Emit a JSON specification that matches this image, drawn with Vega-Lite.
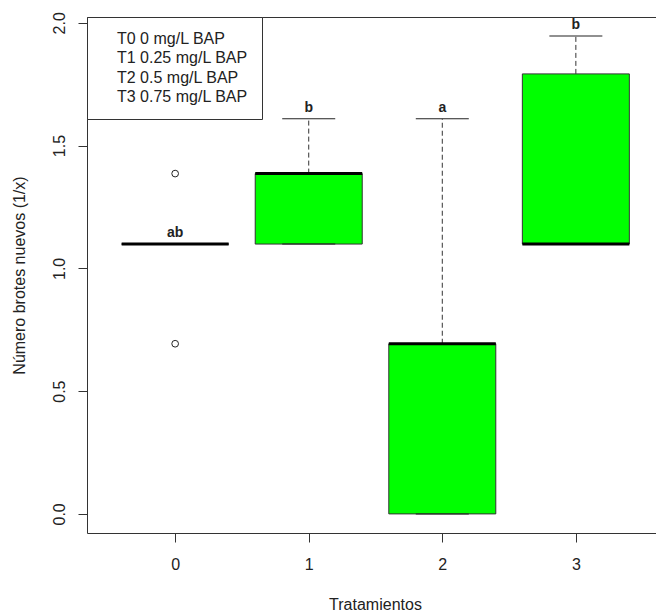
{
  "$schema": "https://vega.github.io/schema/vega-lite/v6.json",
  "autosize": "none",
  "width": 569,
  "height": 516,
  "padding": {"left": 87, "top": 17, "right": 0, "bottom": 78},
  "background": "white",
  "config": {
    "view": {"stroke": null},
    "font": "Liberation Sans",
    "axis": {"grid": false, "domainColor": "#333", "tickColor": "#333", "labelColor": "#222", "titleColor": "#222", "labelFontSize": 16, "titleFontSize": 16, "titleFontWeight": "normal", "tickSize": 9, "labelFont": "Liberation Sans", "titleFont": "Liberation Sans"},
    "legend": {"orient": "top-left", "offset": 0, "strokeColor": "#333", "fillColor": "white", "padding": 14, "symbolSize": 0, "symbolStrokeWidth": 0, "symbolOpacity": 0, "labelOffset": 0, "labelFontSize": 16, "labelFont": "Liberation Sans", "labelColor": "#222", "rowPadding": 3.3, "labelLimit": 300}
  },
  "datasets": {
    "stats": [
      {"trat": 0, "lower": 1.099, "q1": 1.099, "median": 1.099, "q3": 1.099, "upper": 1.099, "letra": "ab"},
      {"trat": 1, "lower": 1.099, "q1": 1.099, "median": 1.386, "q3": 1.386, "upper": 1.609, "letra": "b"},
      {"trat": 2, "lower": 0.0, "q1": 0.0, "median": 0.693, "q3": 0.693, "upper": 1.609, "letra": "a"},
      {"trat": 3, "lower": 1.099, "q1": 1.099, "median": 1.099, "q3": 1.792, "upper": 1.946, "letra": "b"}
    ],
    "outliers": [
      {"trat": 0, "valor": 1.386},
      {"trat": 0, "valor": 0.693}
    ],
    "leyenda": [
      {"leyenda": "T0 0 mg/L BAP"},
      {"leyenda": "T1 0.25 mg/L BAP"},
      {"leyenda": "T2 0.5 mg/L BAP"},
      {"leyenda": "T3 0.75 mg/L BAP"}
    ]
  },
  "resolve": {"axis": {"x": "independent"}},
  "layer": [
    {
      "data": {"name": "stats"},
      "mark": {"type": "bar", "width": 107, "fill": "#00FF00", "stroke": "#333", "strokeWidth": 1},
      "encoding": {
        "x": {"field": "trat", "type": "quantitative", "title": "Tratamientos",
              "scale": {"domain": [-0.66, 3.6], "nice": false, "zero": false, "padding": 0},
              "axis": {"orient": "bottom", "values": [0, 1, 2, 3], "format": "d", "labelPadding": 14, "titlePadding": 24, "titleX": 288, "labelFlush": false}},
        "y": {"field": "q1", "type": "quantitative", "title": "Número brotes nuevos (1/x)",
              "scale": {"domain": [-0.0778, 2.0237], "nice": false, "zero": false, "padding": 0},
              "axis": {"values": [0, 0.5, 1, 1.5, 2], "format": ".1f", "labelAngle": -90, "labelAlign": "center", "labelBaseline": "bottom", "labelPadding": 11, "titlePadding": 24, "labelFlush": false}},
        "y2": {"field": "q3"}
      }
    },
    {
      "data": {"name": "stats"},
      "mark": {"type": "rule", "color": "#333", "strokeWidth": 1, "strokeDash": [5, 3]},
      "encoding": {
        "x": {"field": "trat", "type": "quantitative", "axis": null},
        "y": {"field": "q3", "type": "quantitative", "title": "Número brotes nuevos (1/x)"},
        "y2": {"field": "upper"}
      }
    },
    {
      "data": {"name": "stats"},
      "mark": {"type": "rule", "color": "#333", "strokeWidth": 1, "strokeDash": [5, 3]},
      "encoding": {
        "x": {"field": "trat", "type": "quantitative", "axis": null},
        "y": {"field": "lower", "type": "quantitative", "title": "Número brotes nuevos (1/x)"},
        "y2": {"field": "q1"}
      }
    },
    {
      "data": {"name": "stats"},
      "mark": {"type": "tick", "orient": "horizontal", "size": 53, "thickness": 1, "color": "#222", "opacity": 1},
      "encoding": {
        "x": {"field": "trat", "type": "quantitative", "axis": null},
        "y": {"field": "upper", "type": "quantitative", "title": "Número brotes nuevos (1/x)"}
      }
    },
    {
      "data": {"name": "stats"},
      "mark": {"type": "tick", "orient": "horizontal", "size": 53, "thickness": 1, "color": "#222", "opacity": 1},
      "encoding": {
        "x": {"field": "trat", "type": "quantitative", "axis": null},
        "y": {"field": "lower", "type": "quantitative", "title": "Número brotes nuevos (1/x)"}
      }
    },
    {
      "data": {"name": "stats"},
      "mark": {"type": "tick", "orient": "horizontal", "size": 107, "thickness": 3, "color": "black", "opacity": 1},
      "encoding": {
        "x": {"field": "trat", "type": "quantitative", "axis": null},
        "y": {"field": "median", "type": "quantitative", "title": "Número brotes nuevos (1/x)"}
      }
    },
    {
      "data": {"name": "outliers"},
      "mark": {"type": "point", "shape": "circle", "size": 45, "stroke": "#222", "strokeWidth": 1, "fill": "white", "filled": false, "opacity": 1},
      "encoding": {
        "x": {"field": "trat", "type": "quantitative",
              "axis": {"orient": "top", "labels": false, "ticks": false, "domain": true, "title": null}},
        "y": {"field": "valor", "type": "quantitative", "title": "Número brotes nuevos (1/x)"}
      }
    },
    {
      "data": {"name": "stats"},
      "mark": {"type": "text", "baseline": "bottom", "dy": -4, "fontWeight": "bold", "fontSize": 14, "font": "Liberation Sans", "color": "#222"},
      "encoding": {
        "x": {"field": "trat", "type": "quantitative", "axis": null},
        "y": {"field": "upper", "type": "quantitative", "title": "Número brotes nuevos (1/x)"},
        "text": {"field": "letra"}
      }
    },
    {
      "data": {"name": "leyenda"},
      "mark": {"type": "point", "opacity": 0},
      "encoding": {
        "shape": {"field": "leyenda", "type": "nominal", "legend": {"title": null}}
      }
    }
  ]
}
